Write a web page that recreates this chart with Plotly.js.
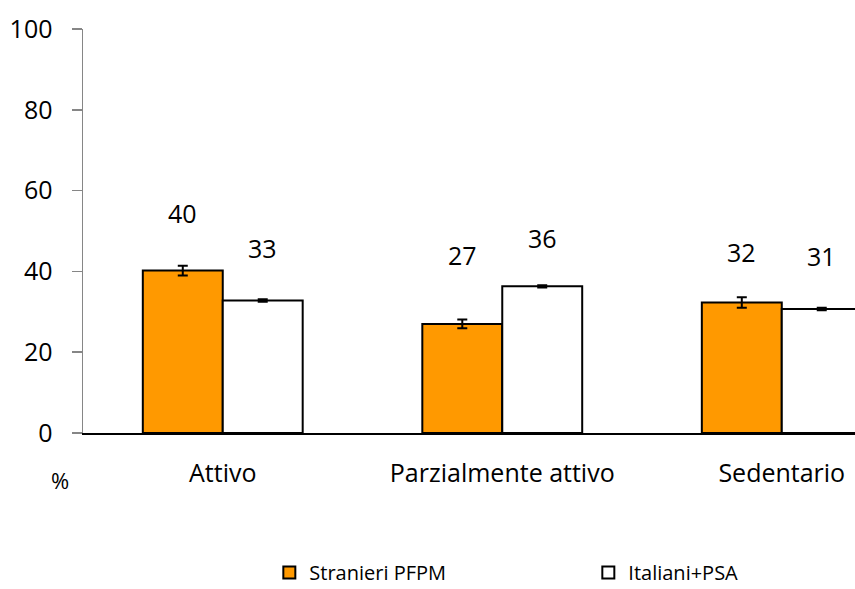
<!DOCTYPE html>
<html>
<head>
<meta charset="utf-8">
<script src="https://cdn.plot.ly/plotly-3.0.1.min.js"></script>
<style>html,body{margin:0;padding:0;background:#fff;overflow:hidden;}#chart{width:855px;height:589px;}</style>
</head>
<body>
<div id="chart"></div>
<script>
// ---- data ----
const categories = ["Attivo", "Parzialmente attivo", "Sedentario"];
const seriesNames = ["Stranieri PFPM", "Italiani+PSA"];
const stranieri = [40.2, 27.0, 32.3];
const stranieriErr = [1.2, 1.1, 1.3];
const italiani = [32.8, 36.3, 30.7];
const italianiErr = [0.3, 0.3, 0.3];
const yTicks = [0, 20, 40, 60, 80, 100];

// ---- style ----
const FONT = "Open Sans, Liberation Sans, sans-serif";
const FS = 25;
const labelShiftPx = [[58, 69, 51], [52, 48, 53]];

const traces = [
  {
    type: "bar", name: seriesNames[0], x: [0, 1, 2], y: stranieri,
    marker: {color: "#FF9900", line: {color: "#000", width: 2}},
    error_y: {type: "data", array: stranieriErr, visible: true, color: "#000", thickness: 2, width: 5},
    hoverinfo: "none"
  },
  {
    type: "bar", name: seriesNames[1], x: [0, 1, 2], y: italiani,
    marker: {color: "#FFFFFF", line: {color: "#000", width: 2}},
    error_y: {type: "data", array: italianiErr, visible: true, color: "#000", thickness: 2, width: 5},
    hoverinfo: "none"
  }
];

const annotations = [];
[stranieri, italiani].forEach((vals, s) => {
  vals.forEach((v, i) => {
    annotations.push({
      x: i + (s === 0 ? -0.143 : 0.143), y: v, xref: "x", yref: "y",
      text: String(Math.round(v)), showarrow: false,
      yshift: labelShiftPx[s][i], font: {family: FONT, size: FS, color: "#000"}
    });
  });
});
annotations.push({
  xref: "paper", yref: "paper", x: -0.03, y: 0, yshift: -47, xanchor: "center", yanchor: "middle",
  text: "%", showarrow: false, font: {family: FONT, size: 22, color: "#000"}
});

const layout = {
  width: 855, height: 589,
  margin: {l: 83, r: 0, t: 29, b: 156, pad: 0},
  paper_bgcolor: "#fff", plot_bgcolor: "#fff",
  font: {family: FONT, size: FS, color: "#000"},
  barmode: "group", bargap: 0.428, bargroupgap: 0,
  showlegend: true,
  legend: {
    orientation: "h", xref: "container", yref: "container",
    x: 0.315, y: 0.028, xanchor: "left", yanchor: "middle",
    entrywidth: 274, entrywidthmode: "pixels", bgcolor: "rgba(0,0,0,0)",
    font: {family: FONT, size: 20, color: "#000"}, traceorder: "normal"
  },
  xaxis: {
    range: [-0.5, 2.262], tickmode: "array", tickvals: [0, 1, 2], ticktext: categories,
    showline: true, linecolor: "#000", linewidth: 1.5, ticks: "", showgrid: false,
    zeroline: false, ticklabelstandoff: 17, tickfont: {family: FONT, size: FS, color: "#000"},
    fixedrange: true
  },
  yaxis: {
    range: [0, 100], tickmode: "array", tickvals: yTicks, ticktext: yTicks.map(String),
    showline: true, linecolor: "#868686", linewidth: 1.5, ticks: "outside", ticklen: 10,
    tickcolor: "#868686", tickwidth: 1.5, showgrid: false, zeroline: false,
    ticklabelstandoff: 14, tickfont: {family: FONT, size: FS, color: "#000"}, fixedrange: true
  },
  annotations: annotations
};

Plotly.newPlot("chart", traces, layout, {displayModeBar: false, staticPlot: true});
</script>
</body>
</html>
